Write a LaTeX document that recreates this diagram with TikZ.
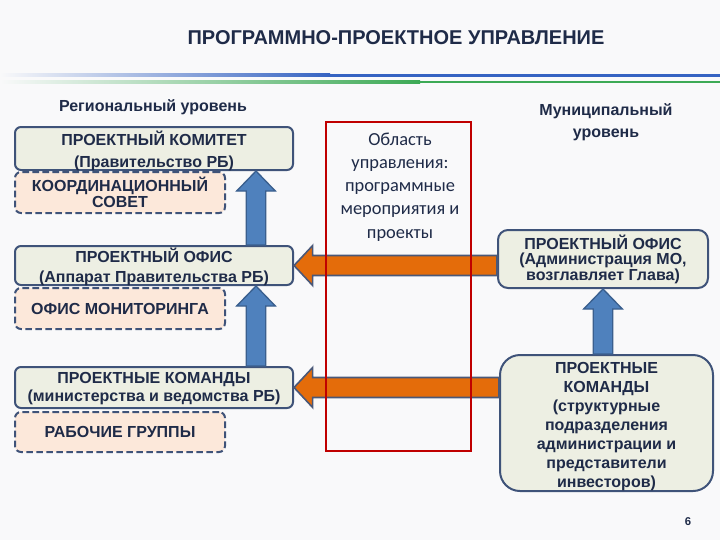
\documentclass[tikz,border=0pt]{standalone}
\usepackage{fontspec}
\setmainfont{Liberation Sans}
\newfontfamily\carlito{Carlito}
\usetikzlibrary{calc}
\definecolor{bgc}{HTML}{F9F9FA}
\definecolor{boxfill}{HTML}{EDEFE3}
\definecolor{boxdraw}{HTML}{3F5379}
\definecolor{dashfill}{HTML}{FCE8DA}
\definecolor{txt}{HTML}{1F2B48}
\definecolor{bluefill}{HTML}{4F81BD}
\definecolor{bluedraw}{HTML}{3A5F8E}
\definecolor{orangefill}{HTML}{E46C0A}
\definecolor{orangedraw}{HTML}{4A5878}
\definecolor{redc}{HTML}{C00000}
\definecolor{lineblue}{HTML}{3563C2}
\definecolor{linegreen}{HTML}{3DAA55}
\newcommand\fatup[2]{%
  \path[bluearrow] let \p1=(#1), \p2=(#2) in
    (\x1-7.3pt,\y1) -- (\x1-7.3pt,\y2-15pt) -- (\x1-14.5pt,\y2-15pt) -- (\x1,\y2)
    -- (\x1+14.5pt,\y2-15pt) -- (\x1+7.3pt,\y2-15pt) -- (\x1+7.3pt,\y1) -- cycle;}
\newcommand\fatleft[2]{%
  \path[orangearrow] let \p1=(#1), \p2=(#2) in
    (\x1,\y1+7.5pt) -- (\x2+14pt,\y1+7.5pt) -- (\x2+14pt,\y1+15pt) -- (\x2,\y1)
    -- (\x2+14pt,\y1-15pt) -- (\x2+14pt,\y1-7.5pt) -- (\x1,\y1-7.5pt) -- cycle;}
\tikzset{
  box/.style={draw=boxdraw, line width=1.5pt, fill=boxfill, rounded corners=4.5pt,
    text=txt, font=\bfseries\fontsize{12}{15}\selectfont, align=center, inner sep=0pt},
  dbox/.style={draw=boxdraw, line width=1.5pt, fill=dashfill, rounded corners=4.5pt,
    dash pattern=on 5pt off 2.5pt, text=txt, font=\bfseries\fontsize{12}{12}\selectfont,
    align=center, inner sep=0pt},
  lbl/.style={text=txt, font=\bfseries\fontsize{12}{16.5}\selectfont, align=center, inner sep=0pt},
  bluearrow/.style={fill=bluefill, draw=bluedraw, line width=1pt, line join=miter},
  orangearrow/.style={fill=orangefill, draw=orangedraw, line width=1.2pt, line join=miter},
}
\begin{document}
\begin{tikzpicture}[x=0.75pt,y=-0.75pt]
\useasboundingbox (0,0) rectangle (720,540);
\fill[bgc] (0,0) rectangle (720,540);
% header lines
\shade[left color=bgc, right color=lineblue] (0,73.5) rectangle (330,76.5);
\fill[lineblue] (330,73.5) rectangle (720,76.5);
\shade[left color=bgc, right color=linegreen] (0,80.5) rectangle (420,83);
\fill[linegreen] (420,80.5) rectangle (720,83);
% title
\node[text=txt, font=\bfseries\fontsize{15}{16}\selectfont, inner sep=0pt] (title) at (396,38) {ПРОГРАММНО-ПРОЕКТНОЕ УПРАВЛЕНИЕ};
% level labels
\node[lbl] (reg) at (153,107) {Региональный уровень};
\node[lbl] (mun) at (606,122) {Муниципальный\\уровень};
% left column
\node[box, minimum width=208.5pt, minimum height=32.25pt] (b1) at (154,148.5) {};
\node[text=txt, font=\bfseries\fontsize{12}{16.5}\selectfont, align=center, inner sep=0pt] (b1t) at (154,151) {ПРОЕКТНЫЙ КОМИТЕТ\\(Правительство РБ)};
\node[dbox, minimum width=157.5pt, minimum height=30.75pt] (d1) at (120,192.5) {КООРДИНАЦИОННЫЙ\\СОВЕТ};
\node[box, minimum width=208.5pt, minimum height=29.25pt] (b2) at (154,265.5) {};
\node[text=txt, font=\bfseries\fontsize{12}{15}\selectfont, align=center, inner sep=0pt] (b2t) at (154,267) {ПРОЕКТНЫЙ ОФИС\\(Аппарат Правительства РБ)};
\node[dbox, minimum width=157.5pt, minimum height=30.75pt] (d2) at (120,308.5) {ОФИС МОНИТОРИНГА};
\node[box, minimum width=208.5pt, minimum height=30.75pt] (b3) at (154,387.5) {};
\node[text=txt, font=\bfseries\fontsize{12}{13.5}\selectfont, align=center, inner sep=0pt] (b3t) at (154,389) {ПРОЕКТНЫЕ КОМАНДЫ\\(министерства и ведомства РБ)};
\node[dbox, minimum width=157.5pt, minimum height=30pt] (d3) at (120,432) {РАБОЧИЕ ГРУППЫ};
% right column
\node[box, minimum width=157.5pt, minimum height=43.5pt, rounded corners=7.5pt, font=\bfseries\fontsize{12}{11.6}\selectfont] (rb1) at (603,259) {ПРОЕКТНЫЙ ОФИС\\(Администрация МО,\\возглавляет Глава)};
\node[box, minimum width=159.75pt, minimum height=102pt, rounded corners=15pt] (rb2) at (606.5,423) {};
\node[text=txt, font=\bfseries\fontsize{12}{14.25}\selectfont, align=center, inner sep=0pt] (rb2t) at (606.5,426.5) {ПРОЕКТНЫЕ\\КОМАНДЫ\\(структурные\\подразделения\\администрации и\\представители\\инвесторов)};
% arrows
\coordinate (ax) at (256,0);
\fatup{b2.north -| ax}{b1.south -| ax}
\fatup{b3.north -| ax}{b2.south -| ax}
\fatup{rb2.north -| rb1.south}{rb1.south}
\fatleft{rb1.west |- b2.east}{b2.east}
\fatleft{rb2.west |- b3.east}{b3.east}
% central area
\node[draw=redc, line width=1.1pt, minimum width=108.75pt, minimum height=246.75pt, inner sep=0pt] (area) at (398.5,286.5) {};
\node[text=txt, font=\carlito\fontsize{13.8}{17.4}\selectfont, align=center, inner sep=0pt] (areatext) at (400,187) {Область\\управления:\\программные\\мероприятия и\\проекты};
% page number
\node[text=txt, font=\bfseries\fontsize{8.5}{10}\selectfont, inner sep=0pt] (pg) at (688,522) {6};
\end{tikzpicture}
\end{document}
